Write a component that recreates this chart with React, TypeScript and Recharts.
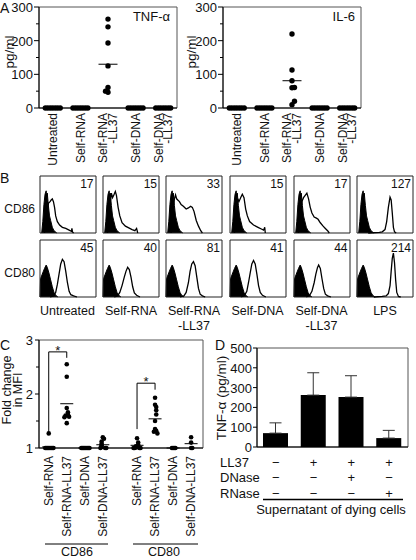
import React from "react";
import {
    Area,
    Bar,
    BarChart,
    ComposedChart,
    ErrorBar,
    Line,
    ReferenceArea,
    ReferenceDot,
    ReferenceLine,
    Scatter,
    ScatterChart,
    XAxis,
    YAxis,
} from "recharts";

const FONT = "'Liberation Sans', Arial, Helvetica, sans-serif";
const INK = "#111";
const BOX = "#555";

// ---------- A: cytokines in supernatant (pg/ml) ----------
const aCategories = ["Untreated", "Self-RNA", "Self-RNA\n-LL37", "Self-DNA", "Self-DNA\n-LL37"];
const tnfValues = [
    [0, 0, 0, 0, 0, 0, 0],
    [0, 0, 0, 0, 0, 0, 0],
    [264, 241, 193, 125, 47, 61, 50],
    [0, 0, 0, 0, 0, 0, 0],
    [0, 0, 0, 0, 0, 0, 0],
];
const tnfLines = [0, 0, 130, 0, 0];
const il6Values = [
    [0, 0, 0, 0, 0, 0, 0],
    [0, 0, 0, 0, 0, 0, 0],
    [220, 113, 60, 61, 81, 10, 20],
    [0, 0, 0, 0, 0, 0, 0],
    [0, 0, 0, 0, 0, 0, 0],
];
const il6Lines = [0, 0, 81, 0, 0];
const aTicks = [0, 50, 100, 150, 200, 250, 300];

// ---------- B: flow histograms, [channel %, count %] ----------
const bCategories = ["Untreated", "Self-RNA", "Self-RNA\n-LL37", "Self-DNA", "Self-DNA\n-LL37", "LPS"];
const cd86Mfi = [17, 15, 33, 15, 17, 127];
const cd80Mfi = [45, 40, 81, 41, 44, 214];
const cd86Iso = [[3, 0], [5, 20], [7, 50], [9, 68], [11, 74], [12, 62], [13, 70], [15, 48], [17, 30], [19, 22], [22, 10], [25, 4], [30, 0]];
const cd80Iso = [[0, 0], [1, 32], [4, 40], [8, 50], [11, 56], [13, 52], [16, 42], [19, 30], [22, 18], [25, 8], [28, 3], [32, 0]];
const cd86Open = [
    [[8, 0], [10, 15], [13, 35], [15, 52], [18, 55], [20, 58], [22, 60], [24, 55], [26, 45], [28, 30], [31, 20], [35, 14], [40, 10], [46, 8], [52, 5], [56, 3], [57, 8], [58, 2], [60, 0]],
    [[8, 0], [11, 30], [13, 55], [15, 70], [17, 62], [19, 66], [22, 73], [24, 66], [27, 45], [30, 30], [34, 18], [40, 12], [46, 9], [52, 6], [57, 4], [60, 8], [62, 0]],
    [[9, 0], [12, 40], [15, 60], [17, 67], [19, 60], [21, 58], [24, 55], [27, 50], [31, 47], [36, 42], [40, 44], [44, 47], [47, 45], [50, 38], [54, 22], [58, 12], [62, 4], [65, 0]],
    [[8, 0], [11, 35], [14, 60], [16, 55], [19, 62], [22, 68], [25, 62], [28, 42], [31, 30], [35, 20], [42, 14], [50, 10], [56, 7], [60, 5], [62, 10], [63, 0]],
    [[8, 0], [11, 30], [14, 55], [17, 62], [20, 66], [23, 70], [26, 60], [29, 45], [32, 35], [36, 28], [40, 26], [43, 24], [47, 18], [52, 12], [56, 8], [60, 4], [63, 0]],
    [[20, 0], [40, 1], [45, 2], [50, 6], [53, 20], [56, 45], [59, 63], [61, 58], [63, 35], [65, 10], [67, 2], [70, 0]],
];
const cd80Open = [
    [[18, 0], [24, 2], [28, 8], [31, 22], [34, 40], [37, 58], [40, 66], [43, 62], [46, 45], [49, 25], [52, 10], [55, 4], [60, 2], [66, 0]],
    [[20, 0], [26, 2], [30, 8], [34, 20], [38, 35], [41, 45], [44, 52], [47, 48], [50, 35], [53, 18], [56, 7], [60, 3], [66, 0]],
    [[25, 0], [32, 2], [36, 8], [40, 25], [43, 45], [46, 58], [49, 62], [52, 55], [55, 35], [58, 15], [61, 5], [65, 2], [70, 0]],
    [[20, 0], [26, 3], [30, 10], [33, 25], [36, 42], [39, 58], [42, 64], [45, 58], [48, 40], [51, 20], [54, 8], [58, 3], [64, 0]],
    [[22, 0], [28, 3], [32, 10], [36, 25], [39, 40], [42, 52], [44, 56], [47, 50], [50, 32], [53, 15], [56, 5], [60, 2], [66, 0]],
    [[30, 0], [45, 1], [52, 2], [56, 6], [59, 20], [61, 45], [63, 68], [65, 77], [67, 60], [69, 30], [71, 8], [74, 1], [78, 0]],
];

// ---------- C: fold change in MFI ----------
const cGroups = ["CD86", "CD80"];
const cCategories = ["Self-RNA", "Self-RNA-LL37", "Self-DNA", "Self-DNA-LL37"];
const cd86Fold = [
    [1.27, 1, 1, 1, 1, 1, 1, 1, 1],
    [2.55, 2.32, 1.74, 1.66, 1.62, 1.6, 1.58, 1.57, 1.46],
    [1, 1, 1, 1, 1, 1, 1, 1],
    [1.2, 1.17, 1.12, 1.08, 1.05, 1.02, 1, 1, 1],
];
const cd80Fold = [
    [1.18, 1.1, 1.06, 1.03, 1.01, 1, 1, 1, 1],
    [1.93, 1.8, 1.76, 1.7, 1.62, 1.5, 1.35, 1.32, 1.3, 1.27],
    [1, 1, 1, 1],
    [1.2, 1.1, 1, 1],
];
const cd86Lines = [1.02, 1.82, 1, 1.06];
const cd80Lines = [1.05, 1.54, 1, 1.08];
const cTicks = [1, 1.5, 2, 2.5, 3];
// significance brackets: group, top of bracket, foot of left and right legs
const cBrackets = [
    { group: 0, top: 2.78, leftFoot: 1.3, rightFoot: 2.67 },
    { group: 1, top: 2.2, leftFoot: 1.35, rightFoot: 2.08 },
];

// ---------- D: TNF-a with supernatant of dying cells ----------
const dValues = [70, 262, 252, 45];
const dErrors = [52, 113, 108, 39];
const dLL37 = ["−", "+", "+", "+"];
const dDNase = ["−", "−", "+", "−"];
const dRNase = ["−", "−", "−", "+"];
const dTicks = [0, 100, 200, 300, 400, 500];

// spread overlapping dots sideways, like a dot plot
const swarm = (values: number[], near: number, step: number) => {
    const order = [0, 1, -1, 2, -2, 3, -3, 4, -4, 5, -5];
    return values.map((v, i) => {
        const n = values.slice(0, i).filter((u) => Math.abs(u - v) < near).length;
        return { v, dx: order[n] * step };
    });
};

const dotShape = (r: number) => (p: any) => <circle cx={p.cx} cy={p.cy} r={r} fill="#000" />;
const barShape = (half: number) => (p: any) => (
    <line x1={p.cx - half} x2={p.cx + half} y1={p.cy} y2={p.cy} stroke="#000" strokeWidth={1} />
);

const makeYTick =
    (isMajor: (v: number) => boolean, majorLen: number, minorLen: number, gap: number) => (p: any) => {
        const major = isMajor(p.payload.value);
        return (
            <g>
                <line x1={p.x - (major ? majorLen : minorLen)} x2={p.x} y1={p.y} y2={p.y} stroke="#000" />
                {major && (
                    <text
                        x={p.x - majorLen - gap}
                        y={p.y}
                        dy="0.38em"
                        textAnchor="end"
                        fontSize={13}
                        fill={INK}
                        fontFamily={FONT}
                    >
                        {p.payload.value}
                    </text>
                )}
            </g>
        );
    };

const makeRotTick = (labelAt: (v: number) => string, gap: number, lineGap: number) => (p: any) => {
    const lines = labelAt(p.payload.value).split("\n");
    return (
        <text
            transform={`translate(${p.x},${p.y + gap}) rotate(-90)`}
            textAnchor="end"
            fontSize={12}
            fill={INK}
            fontFamily={FONT}
        >
            {lines.map((l, i) => (
                <tspan key={i} x={0} y={(i - (lines.length - 1) / 2) * lineGap} dy="0.35em">
                    {l}
                </tspan>
            ))}
        </text>
    );
};

const CytokinePlot = ({ values, lines }: { values: number[][]; lines: number[] }) => {
    const dots = values.flatMap((vals, c) =>
        swarm(vals, 14, 0.09).map(({ v, dx }) => ({ x: c + 0.5 + dx, y: v }))
    );
    const meanRows = lines.map((m, c) => ({ x: c + 0.5, y: m }));
    return (
        <ScatterChart width={180} height={172} margin={{ top: 7, right: 3, left: 0, bottom: 0 }}>
            <XAxis
                type="number"
                dataKey="x"
                domain={[0, 5]}
                ticks={[0.5, 1.5, 2.5, 3.5, 4.5]}
                interval={0}
                height={64}
                tickSize={0}
                tickMargin={0}
                tickLine={false}
                stroke="#000"
                tick={makeRotTick((v) => aCategories[Math.floor(v)], 5, 9.5)}
            />
            <YAxis
                type="number"
                dataKey="y"
                domain={[0, 300]}
                ticks={aTicks}
                interval={0}
                width={39}
                tickSize={0}
                tickMargin={0}
                tickLine={false}
                stroke="#000"
                tick={makeYTick((v) => v % 100 === 0, 5, 3, 1)}
            />
            <ReferenceArea x1={0} x2={5} y1={0} y2={300} fill="none" stroke={BOX} />
            <Scatter data={meanRows} shape={barShape(9.5)} isAnimationActive={false} />
            <Scatter data={dots} shape={dotShape(2.7)} isAnimationActive={false} />
        </ScatterChart>
    );
};

const histTicks = [0, 8, 16, 24, 32, 40, 48, 56, 64, 72, 80, 88, 96];

const Histogram = ({ iso, open }: { iso: number[][]; open: number[][] }) => {
    const xs = Array.from(new Set([...iso.map((p) => p[0]), ...open.map((p) => p[0])])).sort((a, b) => a - b);
    const rows = xs.map((x) => ({
        x,
        iso: iso.find((p) => p[0] === x)?.[1] ?? null,
        open: open.find((p) => p[0] === x)?.[1] ?? null,
    }));
    return (
        <ComposedChart width={62} height={63} margin={{ top: 3, right: 3, left: 3, bottom: 3 }} data={rows}>
            <XAxis
                type="number"
                dataKey="x"
                domain={[0, 100]}
                ticks={histTicks}
                interval={0}
                height={0}
                tickSize={0}
                tickMargin={0}
                tickLine={false}
                axisLine={false}
                tick={(p: any) => <line x1={p.x} x2={p.x} y1={p.y} y2={p.y + 2} stroke="#444" />}
            />
            <YAxis
                type="number"
                domain={[0, 100]}
                ticks={histTicks}
                interval={0}
                width={0}
                tickSize={0}
                tickMargin={0}
                tickLine={false}
                axisLine={false}
                tick={(p: any) => <line x1={p.x - 2} x2={p.x} y1={p.y} y2={p.y} stroke="#444" />}
            />
            <Area
                dataKey="iso"
                type="linear"
                fill="#000"
                fillOpacity={1}
                stroke="#000"
                connectNulls
                dot={false}
                activeDot={false}
                isAnimationActive={false}
            />
            <Line
                dataKey="open"
                type="linear"
                stroke="#000"
                strokeWidth={1.3}
                connectNulls
                dot={false}
                activeDot={false}
                isAnimationActive={false}
            />
            <ReferenceArea x1={0} x2={100} y1={0} y2={100} fill="none" stroke="#222" />
        </ComposedChart>
    );
};

const GROUP_OFFSET = 4.9;
const cPositions = cGroups.flatMap((_, g) => cCategories.map((__, c) => g * GROUP_OFFSET + c));
const cLabelAt = (v: number) => {
    const i = cPositions.findIndex((p) => Math.abs(p - v) < 1e-6);
    return cCategories[i % cCategories.length];
};

const FoldPlot = () => {
    const groups = [
        { values: cd86Fold, lines: cd86Lines },
        { values: cd80Fold, lines: cd80Lines },
    ];
    const dots = groups.flatMap((grp, g) =>
        grp.values.flatMap((vals, c) =>
            swarm(vals, 0.09, 0.065).map(({ v, dx }) => ({ x: g * GROUP_OFFSET + c + dx, y: v }))
        )
    );
    const meanRows = groups.flatMap((grp, g) => grp.lines.map((m, c) => ({ x: g * GROUP_OFFSET + c, y: m })));
    return (
        <ScatterChart width={206} height={230} margin={{ top: 10, right: 3, left: 0, bottom: 0 }}>
            <XAxis
                type="number"
                dataKey="x"
                domain={[-0.54, 8.56]}
                ticks={cPositions}
                interval={0}
                height={112}
                tickSize={0}
                tickMargin={0}
                tickLine={false}
                stroke="#000"
                tick={makeRotTick(cLabelAt, 8, 10)}
            />
            <YAxis
                type="number"
                dataKey="y"
                domain={[1, 3]}
                ticks={cTicks}
                interval={0}
                width={39}
                tickSize={0}
                tickMargin={0}
                tickLine={false}
                stroke="#000"
                tick={makeYTick((v) => Number.isInteger(v), 4, 3, 2)}
            />
            <ReferenceArea x1={-0.54} x2={8.56} y1={1} y2={3} fill="none" stroke={BOX} />
            {cBrackets.map((b) => {
                const x0 = b.group * GROUP_OFFSET;
                const x1 = x0 + 1;
                return (
                    <React.Fragment key={b.group}>
                        <ReferenceLine segment={[{ x: x0, y: b.leftFoot }, { x: x0, y: b.top }]} stroke="#000" />
                        <ReferenceLine segment={[{ x: x0, y: b.top }, { x: x1, y: b.top }]} stroke="#000" />
                        <ReferenceLine segment={[{ x: x1, y: b.rightFoot }, { x: x1, y: b.top }]} stroke="#000" />
                        <ReferenceDot
                            x={x0 + 0.5}
                            y={b.top}
                            r={0}
                            shape={(p: any) => (
                                <text
                                    x={p.cx}
                                    y={p.cy + 3}
                                    textAnchor="middle"
                                    fontSize={13}
                                    fill={INK}
                                    fontFamily={FONT}
                                >
                                    *
                                </text>
                            )}
                        />
                    </React.Fragment>
                );
            })}
            <Scatter data={meanRows} shape={barShape(6.5)} isAnimationActive={false} />
            <Scatter data={dots} shape={dotShape(2.3)} isAnimationActive={false} />
        </ScatterChart>
    );
};

const SupernatantPlot = () => {
    const rows = dValues.map((v, i) => ({ name: `s${i}`, value: v, err: [0, dErrors[i]] }));
    const tableTick = (p: any) => {
        const i = rows.findIndex((r) => r.name === p.payload.value);
        const marks = [dLL37[i], dDNase[i], dRNase[i]];
        return (
            <g>
                {marks.map((m, k) => (
                    <text
                        key={k}
                        x={p.x}
                        y={p.y + 15 + k * 15.6}
                        dy="0.35em"
                        textAnchor="middle"
                        fontSize={13}
                        fill={INK}
                        fontFamily={FONT}
                    >
                        {m}
                    </text>
                ))}
            </g>
        );
    };
    return (
        <BarChart width={201} height={175} margin={{ top: 8, right: 3, left: 0, bottom: 0 }} data={rows}>
            <XAxis
                dataKey="name"
                interval={0}
                height={68}
                tickSize={0}
                tickMargin={0}
                tickLine={false}
                stroke="#000"
                tick={tableTick}
            />
            <YAxis
                domain={[0, 500]}
                ticks={dTicks}
                interval={0}
                width={47}
                tickSize={0}
                tickMargin={0}
                tickLine={false}
                stroke="#000"
                tick={makeYTick(() => true, 4, 4, 1)}
            />
            <ReferenceArea x1="s0" x2="s3" y1={0} y2={500} fill="none" stroke={BOX} />
            <Bar dataKey="value" fill="#000" barSize={25} isAnimationActive={false}>
                <ErrorBar dataKey="err" direction="y" width={6} stroke="#333" strokeWidth={1} />
            </Bar>
        </BarChart>
    );
};

const bLefts = [39.5, 103, 166, 229.5, 293.5, 357];
const bTops = [176, 240];

const Txt = ({
    x,
    y,
    children,
    anchor = "start",
    size = 13,
    rotate = false,
}: {
    x: number;
    y: number;
    children: React.ReactNode;
    anchor?: "start" | "middle" | "end";
    size?: number;
    rotate?: boolean;
}) =>
    rotate ? (
        <text
            transform={`translate(${x},${y}) rotate(-90)`}
            textAnchor={anchor}
            dy="0.35em"
            fontSize={size}
            fill={INK}
            fontFamily={FONT}
        >
            {children}
        </text>
    ) : (
        <text x={x} y={y} textAnchor={anchor} fontSize={size} fill={INK} fontFamily={FONT}>
            {children}
        </text>
    );

export default function App() {
    return (
        <div
            style={{
                position: "absolute",
                left: 0,
                top: 0,
                width: 416,
                height: 560,
                background: "#fff",
                overflow: "hidden",
                fontFamily: FONT,
            }}
        >
            <div style={{ position: "absolute", left: 0, top: 0 }}>
                <CytokinePlot values={tnfValues} lines={tnfLines} />
            </div>
            <div style={{ position: "absolute", left: 184, top: 0 }}>
                <CytokinePlot values={il6Values} lines={il6Lines} />
            </div>

            {bTops.map((top, r) =>
                bLefts.map((left, c) => (
                    <div key={`${r}-${c}`} style={{ position: "absolute", left: left - 3, top: top - 3 }}>
                        <Histogram iso={r === 0 ? cd86Iso : cd80Iso} open={r === 0 ? cd86Open[c] : cd80Open[c]} />
                    </div>
                ))
            )}

            <div style={{ position: "absolute", left: 0, top: 330 }}>
                <FoldPlot />
            </div>
            <div style={{ position: "absolute", left: 210, top: 340 }}>
                <SupernatantPlot />
            </div>

            <svg
                width={416}
                height={560}
                style={{ position: "absolute", left: 0, top: 0, pointerEvents: "none" }}
            >
                {/* A */}
                <Txt x={0} y={13} size={14}>A</Txt>
                <Txt x={170} y={21} anchor="end">TNF-α</Txt>
                <Txt x={355} y={21} anchor="end">IL-6</Txt>
                <Txt x={9} y={52} anchor="middle" size={13.5} rotate>pg/ml</Txt>
                <Txt x={191} y={52} anchor="middle" size={13.5} rotate>pg/ml</Txt>

                {/* B */}
                <Txt x={0} y={183} size={14}>B</Txt>
                <Txt x={35} y={213} anchor="end" size={12}>CD86</Txt>
                <Txt x={35} y={277} anchor="end" size={12}>CD80</Txt>
                {bTops.map((top, r) =>
                    bLefts.map((left, c) => (
                        <Txt key={`n${r}-${c}`} x={left + 54} y={top + 11.5} anchor="end" size={12}>
                            {(r === 0 ? cd86Mfi : cd80Mfi)[c]}
                        </Txt>
                    ))
                )}
                {bCategories.map((label, c) =>
                    label.split("\n").map((l, k) => (
                        <Txt key={`b${c}-${k}`} x={bLefts[c] + 28} y={314.5 + k * 15} anchor="middle" size={12.5}>
                            {l}
                        </Txt>
                    ))
                )}

                {/* C */}
                <Txt x={0} y={350} size={14}>C</Txt>
                <Txt x={7} y={390} anchor="middle" size={12.5} rotate>Fold change</Txt>
                <Txt x={18} y={390} anchor="middle" size={12.5} rotate>in MFI</Txt>
                <line x1={45} x2={108} y1={544} y2={544} stroke="#000" />
                <line x1={133} x2={198} y1={544} y2={544} stroke="#000" />
                <Txt x={77} y={556} anchor="middle" size={12.5}>{cGroups[0]}</Txt>
                <Txt x={164} y={556} anchor="middle" size={12.5}>{cGroups[1]}</Txt>

                {/* D */}
                <Txt x={215} y={350} size={14}>D</Txt>
                <Txt x={221} y={398} anchor="middle" size={13.5} rotate>TNF-α (pg/ml)</Txt>
                <Txt x={220} y={466.5}>LL37</Txt>
                <Txt x={220} y={482}>DNase</Txt>
                <Txt x={220} y={497.5}>RNase</Txt>
                <line x1={263} x2={403} y1={499.5} y2={499.5} stroke="#000" strokeWidth={1.5} />
                <Txt x={331} y={514} anchor="middle">Supernatant of dying cells</Txt>
            </svg>
        </div>
    );
}
